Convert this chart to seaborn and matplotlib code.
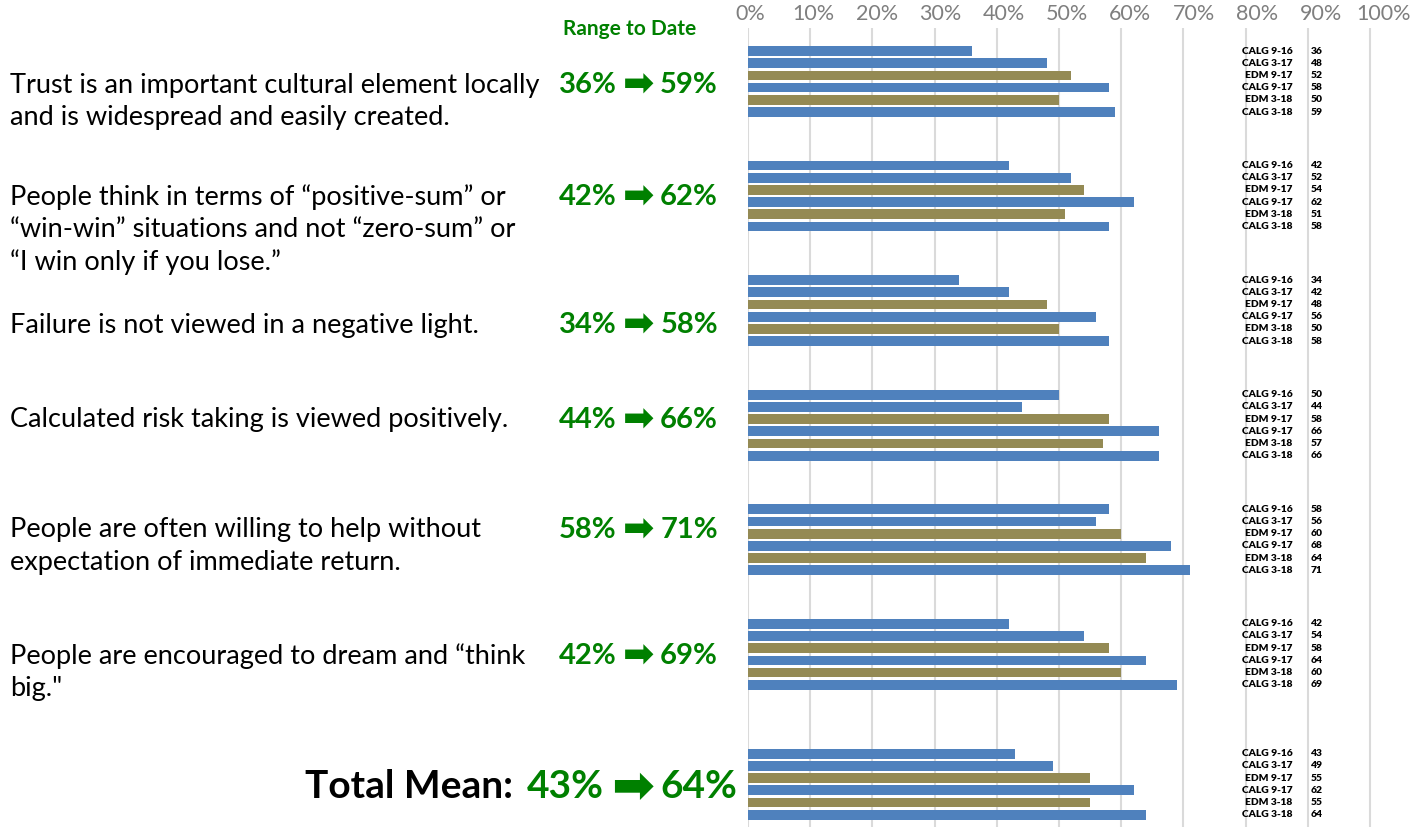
import matplotlib
matplotlib.use("Agg")
import matplotlib.pyplot as plt
import seaborn as sns
import pandas as pd

# ---------------- data ----------------
series_names = ["CALG 9-16", "CALG 3-17", "EDM 9-17", "CALG 9-17", "EDM 3-18", "CALG 3-18"]
series_city = ["CALG", "CALG", "EDM", "CALG", "EDM", "CALG"]

trust = [36, 48, 52, 58, 50, 59]
positive_sum = [42, 52, 54, 62, 51, 58]
failure = [34, 42, 48, 56, 50, 58]
risk = [50, 44, 58, 66, 57, 66]
help_ = [58, 56, 60, 68, 64, 71]
dream = [42, 54, 58, 64, 60, 69]
total_mean = [43, 49, 55, 62, 55, 64]
group_values = [trust, positive_sum, failure, risk, help_, dream, total_mean]

statements = [
    "Trust is an important cultural element locally\nand is widespread and easily created.",
    "People think in terms of \u201cpositive-sum\u201d or\n\u201cwin-win\u201d situations and not \u201czero-sum\u201d or\n\u201cI win only if you lose.\u201d",
    "Failure is not viewed in a negative light.",
    "Calculated risk taking is viewed positively.",
    "People are often willing to help without\nexpectation of immediate return.",
    "People are encouraged to dream and \u201cthink\nbig.\"",
]
range_from = ["36%", "42%", "34%", "44%", "58%", "42%", "43%"]
range_to = ["59%", "62%", "58%", "66%", "71%", "69%", "64%"]
tick_labels = ["0%", "10%", "20%", "30%", "40%", "50%", "60%", "70%", "80%", "90%", "100%"]

palette = {"CALG": "#4F81BD", "EDM": "#948A54"}
GREEN = "#008000"
ARROW = "\u27A1"

# ---------------- layout helpers ----------------
W, H = 1414, 827
GROUP_STEP = 9.39
LAST_GAP = 1.26


def bar_pos(g, i):
    return g * GROUP_STEP + i + (LAST_GAP if g == len(group_values) - 1 else 0)


rows = []
for g, vals in enumerate(group_values):
    for i, v in enumerate(vals):
        rows.append({"group": g, "series": series_names[i], "city": series_city[i],
                     "value": v, "pos": bar_pos(g, i)})
df = pd.DataFrame(rows)

sns.set_style("white")
plt.rcParams["font.family"] = ["Lato", "DejaVu Sans"]

fig = plt.figure(figsize=(W / 100, H / 100), dpi=100)

ax_left_px, ax_top_px = 748, 28
ax = fig.add_axes([ax_left_px / W, 0, (W - ax_left_px) / W, (H - ax_top_px) / H])

sns.barplot(data=df, x="value", y="pos", hue="city", palette=palette, orient="y",
            native_scale=True, dodge=False, legend=False, width=0.8, saturation=1,
            linewidth=0, ax=ax)

px_per_pct = 6.22
ax.set_xlim(0, (W - ax_left_px) / px_per_pct)
y_top = (ax_top_px - 51) / 12.2
y_bot = (H - 51) / 12.2
ax.set_ylim(y_bot, y_top)

ax.set_xticks(range(0, 101, 10))
ax.set_xticklabels([])
ax.tick_params(axis="both", length=0)
ax.set_yticks([])
ax.grid(axis="x", color="#DADADA", linewidth=1.5)
ax.grid(axis="y", visible=False)
ax.set_axisbelow(True)
ax.set_xlabel("")
ax.set_ylabel("")
for s in ax.spines.values():
    s.set_visible(False)

# top tick labels (slightly different spacing than grid in the reference)
ax2 = ax.twiny()
lab_px0, lab_step = 750, 6.34
ax2.set_xlim((ax_left_px - lab_px0) / lab_step, (W - lab_px0) / lab_step)
ax2.set_xticks(range(0, 101, 10))
ax2.set_xticklabels(tick_labels, color="#7F7F7F", fontsize=15.5)
ax2.tick_params(axis="x", length=0, pad=3)
ax2.grid(False)
for s in ax2.spines.values():
    s.set_visible(False)

# right-hand labels
for _, r in df.iterrows():
    ax.text(87.5, r["pos"], r["series"], ha="right", va="center", fontsize=7.4,
            fontweight="heavy", color="black")
    ax.text(90.5, r["pos"], f"{r['value']}", ha="left", va="center", fontsize=7.4,
            fontweight="heavy", color="black")


def fx(x):
    return x / W


def fy(y):
    return 1 - y / H


# statements
first_line_y = [85, 197, 325, 420, 530, 656]
for txt, y0 in zip(statements, first_line_y):
    for k, line in enumerate(txt.split("\n")):
        fig.text(fx(10), fy(y0 + k * 32.5), line, ha="left", va="center",
                 fontsize=19.5, color="black")

# range to date
fig.text(fx(630), fy(29), "Range to Date", ha="center", va="center", fontsize=15,
         fontweight="bold", color=GREEN)
for g in range(6):
    y = first_line_y[g]
    fig.text(fx(559), fy(y), range_from[g], ha="left", va="center", fontsize=21,
             fontweight="bold", color=GREEN)
    fig.text(fx(639), fy(y + 1), ARROW, ha="center", va="center", fontsize=27,
             fontweight="bold", color=GREEN, family="DejaVu Sans")
    fig.text(fx(718), fy(y), range_to[g], ha="right", va="center", fontsize=21,
             fontweight="bold", color=GREEN)

# total mean
yt = 787
fig.text(fx(513), fy(yt), "Total Mean:", ha="right", va="center", fontsize=28,
         fontweight="bold", color="black")
fig.text(fx(527), fy(yt), range_from[6], ha="left", va="center", fontsize=28,
         fontweight="bold", color=GREEN)
fig.text(fx(633), fy(yt + 1), ARROW, ha="center", va="center", fontsize=37,
         fontweight="bold", color=GREEN, family="DejaVu Sans")
fig.text(fx(737), fy(yt), range_to[6], ha="right", va="center", fontsize=28,
         fontweight="bold", color=GREEN)

fig.savefig("out.png", dpi=100)
